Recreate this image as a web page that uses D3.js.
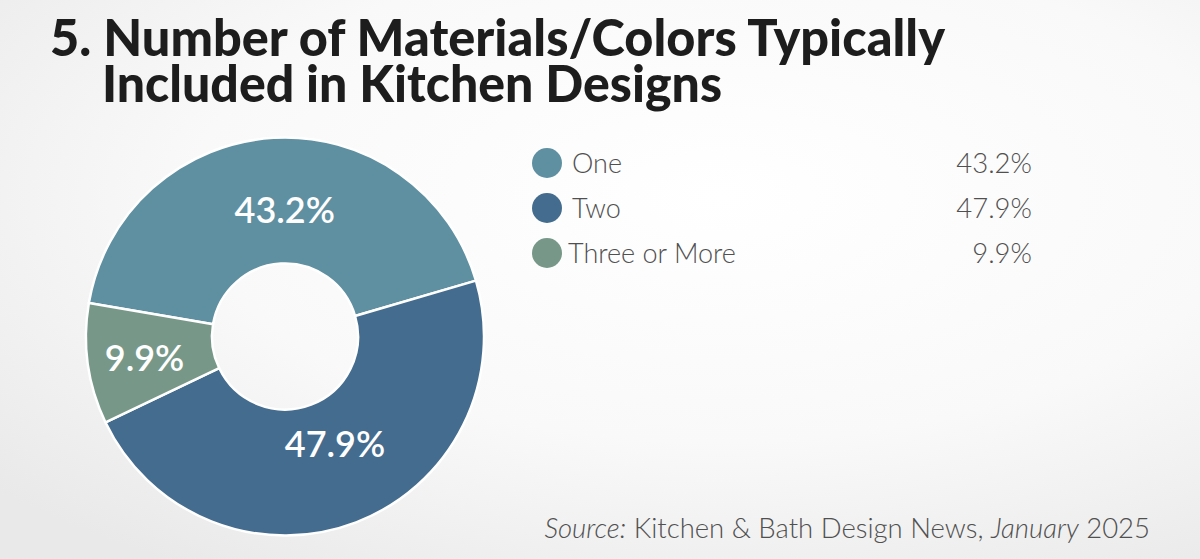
<!DOCTYPE html>
<html><head><meta charset="utf-8">
<script src="https://cdn.jsdelivr.net/npm/d3@7"></script>
<style>html,body{margin:0;padding:0;overflow:hidden;background:#f4f4f4}</style>
</head><body><svg id="c" width="1200" height="559"></svg>
<script>
// ---- data ----
const categories = ["One", "Two", "Three or More"];
const values = [43.2, 47.9, 9.9];
const valueLabels = ["43.2%", "47.9%", "9.9%"];
const colors = ["#5f90a1", "#446c8e", "#779889"];
const titleLines = ["5. Number of Materials/Colors Typically", "Included in Kitchen Designs"];

// ---- layout ----
const W = 1200, H = 559;
const svg = d3.select("#c");
const defs = svg.append("defs");
const grad = defs.append("radialGradient").attr("id", "bg")
  .attr("cx", "60%").attr("cy", "35%").attr("r", "80%");
grad.append("stop").attr("offset", "0%").attr("stop-color", "#ffffff");
grad.append("stop").attr("offset", "55%").attr("stop-color", "#f9f9f9");
grad.append("stop").attr("offset", "100%").attr("stop-color", "#e9e9e9");
svg.append("rect").attr("width", W).attr("height", H).attr("fill", "url(#bg)");

const FONT = "Lato, 'Open Sans', sans-serif";

// title (one text element, two lines)
const tx = [50, 102], ty = [56, 102], tw = [895, 620];
const title = svg.append("text")
  .attr("font-family", FONT).attr("font-weight", 900).attr("font-size", 51)
  .attr("fill", "#1d1d1d");
titleLines.forEach((t, i) => {
  title.append("tspan").attr("x", tx[i]).attr("y", ty[i])
    .attr("textLength", tw[i]).attr("lengthAdjust", "spacingAndGlyphs")
    .text(t);
});

// donut
const cx = 285, cy = 336.5, rOuter = 199, rInner = 73;
const start = -80.3 * Math.PI / 180;
const pie = d3.pie().sort(null).startAngle(start).endAngle(start + 2 * Math.PI);
const arcs = pie(values);
const arc = d3.arc().innerRadius(rInner).outerRadius(rOuter);
const g = svg.append("g").attr("transform", `translate(${cx},${cy})`);
g.selectAll("path").data(arcs).join("path")
  .attr("d", arc).attr("fill", (d, i) => colors[i])
  .attr("stroke", "#ffffff").attr("stroke-width", 2.5).attr("stroke-linejoin", "round");

const labelArc = d3.arc().innerRadius(127).outerRadius(127);
const nudge = [[7, 0], [4.5, -11.5], [-14.7, 4.3]];
g.selectAll("text.v").data(arcs).join("text").attr("class", "v")
  .attr("x", (d, i) => labelArc.centroid(d)[0] + nudge[i][0])
  .attr("y", (d, i) => labelArc.centroid(d)[1] + nudge[i][1])
  .attr("dy", "0.36em").attr("text-anchor", "middle")
  .attr("font-family", FONT).attr("font-weight", 600).attr("font-size", 36)
  .attr("fill", "#ffffff").text((d, i) => valueLabels[i]);

// legend
const ly = d3.scalePoint().domain(categories).range([163, 253]);
const lg = svg.append("g");
const labelX = [572, 572, 568];
categories.forEach((c, i) => {
  const y = ly(c);
  lg.append("circle").attr("cx", 547).attr("cy", y).attr("r", 15).attr("fill", colors[i]);
  lg.append("text").attr("x", labelX[i]).attr("y", y).attr("dy", "0.38em")
    .attr("font-family", FONT).attr("font-weight", 300).attr("font-size", 27)
    .attr("fill", "#505050").text(c);
  lg.append("text").attr("x", 1032).attr("y", y).attr("dy", "0.38em")
    .attr("text-anchor", "end")
    .attr("font-family", FONT).attr("font-weight", 300).attr("font-size", 27.5)
    .attr("fill", "#505050").text(valueLabels[i]);
});

// source
const src = svg.append("text").attr("x", 1150).attr("y", 538).attr("text-anchor", "end")
  .attr("font-family", FONT).attr("font-weight", 300).attr("font-size", 27.5).attr("fill", "#505050");
src.append("tspan").attr("font-style", "italic").text("Source:");
src.append("tspan").text(" Kitchen & Bath Design News, ");
src.append("tspan").attr("font-style", "italic").text("January");
src.append("tspan").text(" 2025");
</script></body></html>
